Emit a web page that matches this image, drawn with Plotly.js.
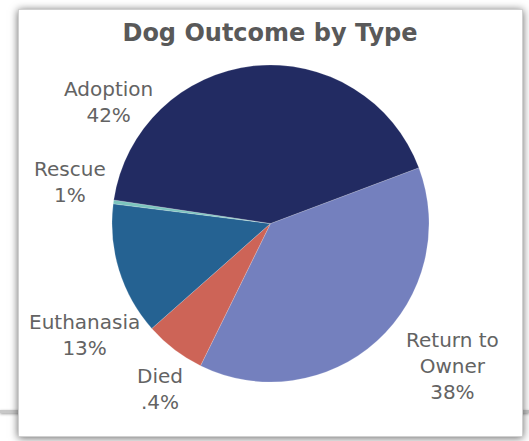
<!DOCTYPE html>
<html>
<head>
<meta charset="utf-8">
<script src="https://cdn.plot.ly/plotly-3.0.1.min.js"></script>
<style>
  html, body { margin: 0; padding: 0; background: #ffffff; width: 529px; height: 441px; overflow: hidden; position: relative; }
  #band { position: absolute; left: 0; top: 410px; width: 529px; height: 3px; background: #c8c8c8; box-shadow: 0 1px 3px rgba(0,0,0,0.4); }
  #chart { position: absolute; left: 18px; top: 9px; width: 503px; height: 426px; border: 1px solid #d0d0d0; background: #fff; box-shadow: 0 1px 8px rgba(0,0,0,0.6); }
</style>
</head>
<body>
<div id="band"></div>
<div id="chart"></div>
<script>
// ---- data (clockwise order starting at the upper-right boundary) ----
const categories = ["Return to Owner", "Died", "Euthanasia", "Rescue", "Adoption"];
const values = [38.0, 6.2, 13.5, 0.4, 41.9];
const labelNames = ["Return to<br>Owner", "Died", "Euthanasia", "Rescue", "Adoption"];
const pctLabels = ["38%", ".4%", "13%", "1%", "42%"];

// ---- styles / layout constants ----
const colors = ["#7480BE", "#CD6457", "#256292", "#7CC4BE", "#222B62"];
const W = 503, H = 426, OX = 19, OY = 10;           // chart inner box in page pixels
const center = [270.5, 223.5], radius = 158.5;       // pie geometry in page pixels
const labelCenters = [[452, 366], [160, 389], [84, 335], [70, 182], [108, 102]];
const px = x => (x - OX) / W;
const py = y => 1 - (y - OY) / H;

const trace = {
  type: "pie",
  labels: categories,
  values: values,
  sort: false,
  direction: "clockwise",
  rotation: 69.4,
  textinfo: "none",
  hoverinfo: "label+percent",
  marker: { colors: colors, line: { color: "rgba(255,255,255,0.35)", width: 0.5 } },
  domain: {
    x: [px(center[0] - radius), px(center[0] + radius)],
    y: [py(center[1] + radius), py(center[1] - radius)]
  },
  showlegend: false
};

const annotations = categories.map((c, i) => ({
  xref: "paper", yref: "paper",
  x: px(labelCenters[i][0]), y: py(labelCenters[i][1]),
  xanchor: "center", yanchor: "middle",
  text: labelNames[i] + "<br>" + pctLabels[i],
  showarrow: false,
  align: "center",
  font: { family: "DejaVu Sans, sans-serif", size: 20, color: "#636363" }
}));

const layout = {
  width: W, height: H,
  margin: { l: 0, r: 0, t: 0, b: 0, pad: 0 },
  paper_bgcolor: "#ffffff",
  title: {
    text: "<b>Dog Outcome by Type</b>",
    x: px(270), xanchor: "center",
    y: py(33), yanchor: "middle", yref: "container",
    font: { family: "DejaVu Sans, sans-serif", size: 24, color: "#595959" }
  },
  annotations: annotations
};

Plotly.newPlot("chart", [trace], layout, { displayModeBar: false, staticPlot: true });
</script>
</body>
</html>
